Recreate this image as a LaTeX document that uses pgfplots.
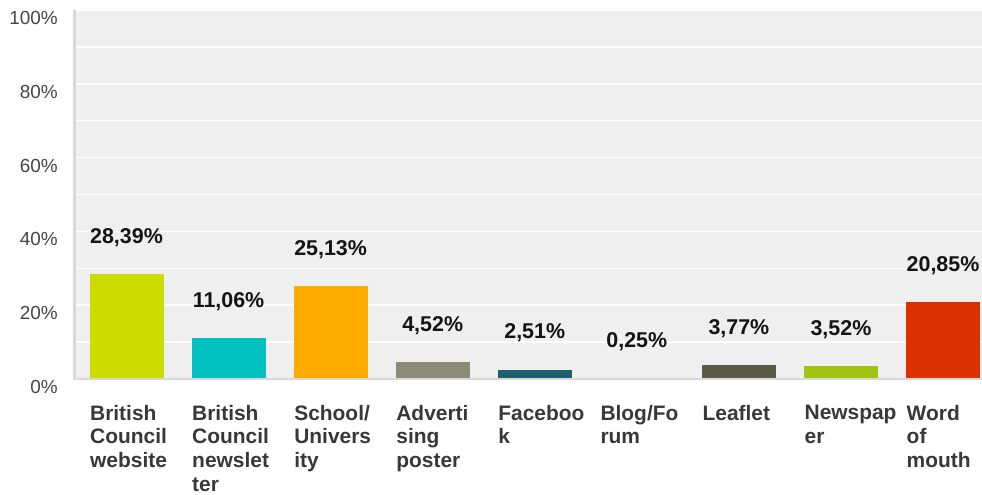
\documentclass[border=0pt]{standalone}
\usepackage{fontspec}
\setmainfont{Liberation Sans}
\usepackage{pgfplots}
\pgfplotsset{compat=1.18}
\definecolor{bg}{HTML}{EFEFEF}
\definecolor{axisgray}{HTML}{D9D9D9}
\definecolor{tickgray}{HTML}{454545}
\definecolor{labgray}{HTML}{383838}
\definecolor{c1}{HTML}{CCDC00}
\definecolor{c2}{HTML}{00C0C0}
\definecolor{c3}{HTML}{FFAA00}
\definecolor{c4}{HTML}{8A8C78}
\definecolor{c5}{HTML}{1D5F6E}
\definecolor{c6}{HTML}{8E5BB5}
\definecolor{c7}{HTML}{5B5C48}
\definecolor{c8}{HTML}{A2C314}
\definecolor{c9}{HTML}{DB3000}
\begin{document}
\begin{tikzpicture}
\useasboundingbox (-73bp,-116bp) rectangle (909bp,379bp);
\begin{axis}[
  at={(0,0)}, anchor=south west,
  scale only axis, width=909bp, height=369bp,
  xmin=-0.524, xmax=8.382, ymin=0, ymax=100,
  axis background/.style={fill=bg},
  axis line style={draw=none},
  major tick length=0pt, minor tick length=0pt,
  ytick={0,20,40,60,80,100},
  yticklabels={0\%,20\%,40\%,60\%,80\%,100\%},
  minor ytick={10,30,50,70,90},
  ymajorgrids, yminorgrids,
  major grid style={white, line width=1.5bp},
  minor grid style={white, line width=1.5bp},
  yticklabel style={font=\fontsize{19}{22}\selectfont, text=tickgray, anchor=east, inner sep=0pt, xshift=-15bp, yshift=-8bp},
  xtick={0,1,2,3,4,5,6,7,8},
  xticklabels={{British\\Council\\website},{British\\Council\\newslet\\ter},{School/\\Univers\\ity},{Adverti\\sing\\poster},{Faceboo\\k},{Blog/Fo\\rum},{Leaflet},{Newspap\\er},{Word\\of\\mouth}},
  xticklabel style={font=\bfseries\fontsize{21}{23.7}\selectfont, text=labgray, align=left, anchor=north west, inner sep=0pt, xshift=-36.5bp, yshift=-26bp},
  ybar, bar width=73bp,
  point meta=explicit symbolic,
  nodes near coords,
  every node near coord/.append style={font=\bfseries\fontsize{21.5}{24}\selectfont, text=black!92, anchor=base, inner sep=0pt, yshift=31bp},
  clip=false,
  every axis plot/.append style={bar shift=0pt},
]
\addplot[fill=c1, draw=c1] coordinates {(0,28.39) [28,39\%]};
\addplot[fill=c2, draw=c2] coordinates {(1,11.06) [11,06\%]};
\addplot[fill=c3, draw=c3] coordinates {(2,25.13) [25,13\%]};
\addplot[fill=c4, draw=c4] coordinates {(3,4.52) [4,52\%]};
\addplot[fill=c5, draw=c5] coordinates {(4,2.51) [2,51\%]};
\addplot[fill=c6, draw=c6] coordinates {(5,0.25) [0,25\%]};
\addplot[fill=c7, draw=c7] coordinates {(6,3.77) [3,77\%]};
\addplot[fill=c8, draw=c8] coordinates {(7,3.52) [3,52\%]};
\addplot[fill=c9, draw=c9] coordinates {(8,20.85) [20,85\%]};
\draw[axisgray, line width=3bp] ([xshift=1.5bp]rel axis cs:0,0) -- ([xshift=1.5bp]rel axis cs:0,1);
\draw[axisgray, line width=2bp] (rel axis cs:0,0) -- (rel axis cs:1,0);
\end{axis}
\end{tikzpicture}
\end{document}
